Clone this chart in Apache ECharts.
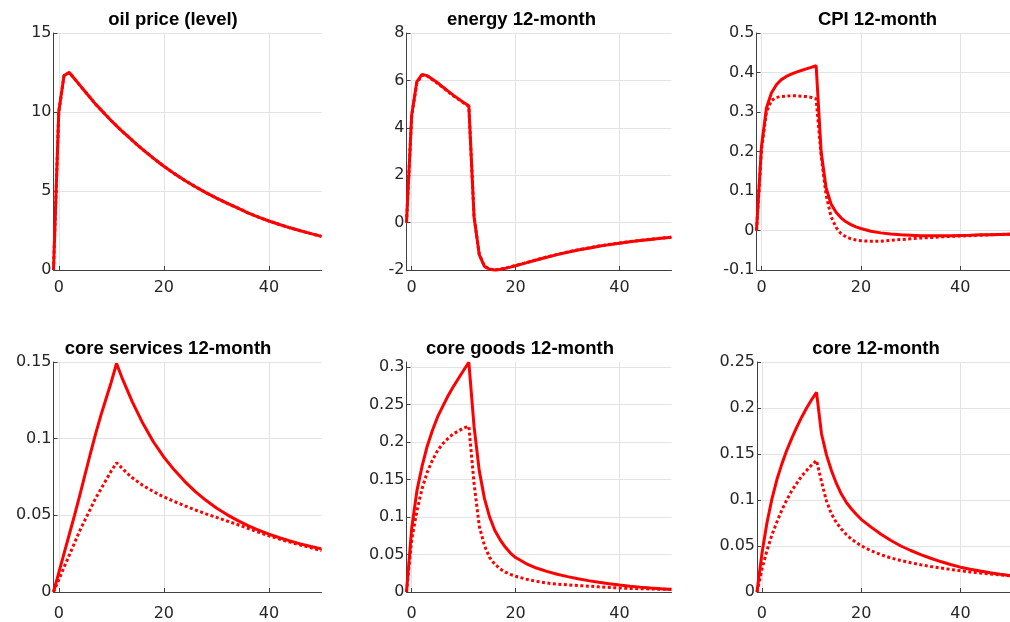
<!DOCTYPE html>
<html>
<head>
<meta charset="utf-8">
<script src="https://cdn.jsdelivr.net/npm/echarts@6/dist/echarts.min.js"></script>
<style>
    html, body { margin: 0; padding: 0; background: #fff; }
    #chart { width: 1010px; height: 622px; }
</style>
</head>
<body>
<div id="chart"></div>
<script>
// months after the shock (-1 = pre-shock)
const months = [-1, 0, 1, 2, 3, 4, 5, 6, 7, 8, 9, 10, 11, 12, 13, 14, 15, 16, 17, 18, 19, 20,
    22, 24, 26, 28, 30, 32, 34, 36, 38, 40, 42, 44, 46, 48, 50];
const xTicks = [0, 20, 40];

const titles = ['oil price (level)', 'energy 12-month', 'CPI 12-month',
    'core services 12-month', 'core goods 12-month', 'core 12-month'];

const oilSolid = [0, 10.0, 12.3, 12.5, 12.1, 11.7, 11.3, 10.9, 10.5, 10.15, 9.8, 9.45, 9.12, 8.8, 8.5, 8.2, 7.9, 7.62, 7.35, 7.08, 6.82, 6.57,
    6.1, 5.67, 5.27, 4.9, 4.55, 4.23, 3.93, 3.62, 3.35, 3.1, 2.88, 2.67, 2.48, 2.3, 2.13];
const oilDotted = [0, 10.0, 12.3, 12.5, 12.1, 11.7, 11.3, 10.9, 10.5, 10.15, 9.8, 9.45, 9.12, 8.8, 8.5, 8.2, 7.9, 7.62, 7.35, 7.08, 6.82, 6.57,
    6.1, 5.67, 5.27, 4.9, 4.55, 4.23, 3.93, 3.62, 3.35, 3.1, 2.88, 2.67, 2.48, 2.3, 2.13];

const energySolid = [0, 4.55, 5.95, 6.25, 6.2, 6.05, 5.9, 5.72, 5.55, 5.38, 5.22, 5.07, 4.93, 0.25, -1.35, -1.85, -1.97, -2.0, -1.98, -1.93, -1.88, -1.82,
    -1.7, -1.58, -1.46, -1.35, -1.25, -1.16, -1.08, -1.0, -0.93, -0.87, -0.81, -0.76, -0.71, -0.66, -0.62];
const energyDotted = [0, 4.5, 5.9, 6.22, 6.18, 6.03, 5.87, 5.7, 5.52, 5.35, 5.2, 5.05, 4.9, 0.25, -1.33, -1.84, -1.96, -1.99, -1.97, -1.92, -1.87, -1.81,
    -1.69, -1.57, -1.45, -1.34, -1.24, -1.15, -1.07, -0.99, -0.92, -0.86, -0.8, -0.75, -0.7, -0.66, -0.62];

const cpiSolid = [0, 0.213, 0.31, 0.348, 0.369, 0.382, 0.39, 0.396, 0.401, 0.405, 0.409, 0.413, 0.417, 0.2, 0.108, 0.067, 0.046, 0.032, 0.022, 0.015, 0.009, 0.005,
    -0.002, -0.006, -0.009, -0.011, -0.012, -0.013, -0.013, -0.013, -0.013, -0.0125, -0.012, -0.011, -0.0105, -0.01, -0.0095];
const cpiDotted = [0, 0.204, 0.30, 0.329, 0.337, 0.339, 0.34, 0.341, 0.341, 0.34, 0.339, 0.337, 0.333, 0.19, 0.09, 0.035, 0.008, -0.008, -0.016, -0.021, -0.024, -0.026,
    -0.027, -0.027, -0.025, -0.023, -0.021, -0.019, -0.018, -0.016, -0.015, -0.014, -0.013, -0.012, -0.011, -0.01, -0.0095];

const servicesSolid = [0, 0.0125, 0.025, 0.0375, 0.05, 0.063, 0.0765, 0.09, 0.103, 0.115, 0.126, 0.137, 0.149, 0.14, 0.132, 0.124, 0.117, 0.11, 0.104, 0.098, 0.093, 0.088,
    0.0795, 0.072, 0.0655, 0.0598, 0.0548, 0.0505, 0.0467, 0.0433, 0.0403, 0.0377, 0.0354, 0.0333, 0.0314, 0.0297, 0.0281];
const servicesDotted = [0, 0.008, 0.016, 0.024, 0.032, 0.04, 0.047, 0.054, 0.061, 0.067, 0.073, 0.079, 0.0843, 0.081, 0.0775, 0.0745, 0.072, 0.0695, 0.0675, 0.0655, 0.0637, 0.062,
    0.059, 0.0562, 0.0535, 0.051, 0.0487, 0.0463, 0.044, 0.0415, 0.039, 0.0367, 0.0345, 0.0325, 0.0306, 0.0288, 0.027];

const goodsSolid = [0, 0.085, 0.135, 0.168, 0.195, 0.216, 0.234, 0.248, 0.262, 0.274, 0.285, 0.296, 0.3065, 0.221, 0.162, 0.125, 0.1, 0.082, 0.07, 0.06, 0.052, 0.046,
    0.038, 0.032, 0.0275, 0.0237, 0.0205, 0.0177, 0.0152, 0.013, 0.011, 0.0093, 0.0078, 0.0065, 0.0053, 0.0043, 0.0034];
const goodsDotted = [0, 0.07, 0.108, 0.138, 0.16, 0.176, 0.189, 0.198, 0.205, 0.211, 0.215, 0.219, 0.221, 0.145, 0.088, 0.062, 0.046, 0.037, 0.031, 0.0265, 0.0235, 0.021,
    0.0172, 0.0142, 0.012, 0.0105, 0.0095, 0.0086, 0.0078, 0.0069, 0.0061, 0.0054, 0.0048, 0.0044, 0.004, 0.0037, 0.0035];

const coreSolid = [0, 0.042, 0.075, 0.101, 0.122, 0.139, 0.154, 0.167, 0.179, 0.19, 0.2, 0.209, 0.217, 0.172, 0.149, 0.132, 0.118, 0.1065, 0.0975, 0.0905, 0.0845, 0.079,
    0.0705, 0.0628, 0.056, 0.05, 0.0451, 0.0407, 0.0367, 0.0331, 0.0299, 0.027, 0.0248, 0.0228, 0.021, 0.0194, 0.018];
const coreDotted = [0, 0.025, 0.045, 0.062, 0.076, 0.089, 0.1, 0.11, 0.118, 0.126, 0.132, 0.138, 0.143, 0.12, 0.099, 0.085, 0.0755, 0.0685, 0.0625, 0.0577, 0.0537, 0.0503,
    0.0448, 0.0405, 0.037, 0.0342, 0.0318, 0.0297, 0.0278, 0.0261, 0.0245, 0.0231, 0.0218, 0.0206, 0.0195, 0.0185, 0.0176];

const yTicksOil = [0, 5, 10, 15];
const yTicksEnergy = [-2, 0, 2, 4, 6, 8];
const yTicksCpi = [-0.1, 0, 0.1, 0.2, 0.3, 0.4, 0.5];
const yTicksServices = [0, 0.05, 0.1, 0.15];
const yTicksGoods = [0, 0.05, 0.1, 0.15, 0.2, 0.25, 0.3];
const yTicksCore = [0, 0.05, 0.1, 0.15, 0.2, 0.25];

const yRanges = [[0, 15], [-2, 8], [-0.1, 0.5], [0, 0.15], [0, 0.307], [0, 0.25]];

const panels = [
    { solid: oilSolid, dotted: oilDotted, ticks: yTicksOil },
    { solid: energySolid, dotted: energyDotted, ticks: yTicksEnergy },
    { solid: cpiSolid, dotted: cpiDotted, ticks: yTicksCpi },
    { solid: servicesSolid, dotted: servicesDotted, ticks: yTicksServices },
    { solid: goodsSolid, dotted: goodsDotted, ticks: yTicksGoods },
    { solid: coreSolid, dotted: coreDotted, ticks: yTicksCore },
];

// plot boxes (pixel), MATLAB-like subplot positions
const boxes = [
    { left: 53.5, top: 33, width: 268, height: 237 },
    { left: 406.5, top: 33, width: 265, height: 237 },
    { left: 756.5, top: 33, width: 267, height: 237 },
    { left: 53.5, top: 362, width: 268, height: 236 },
    { left: 406.5, top: 362, width: 265, height: 236 },
    { left: 757, top: 362, width: 267, height: 236 },
];
const titleCenters = [173, 521.5, 877.5, 168, 520, 876];

const axisColor = '#404040';
const gridColor = '#e3e3e3';
const labelFont = { color: '#262626', fontSize: 16, fontFamily: 'DejaVu Sans, sans-serif' };

function pairs(ys) {
    return months.map((m, i) => [m, ys[i]]);
}

const grid = [], xAxis = [], yAxis = [], series = [], title = [];

panels.forEach((p, i) => {
    const b = boxes[i];
    grid.push({ left: b.left, top: b.top, width: b.width, height: b.height, containLabel: false });
    title.push({
        text: titles[i],
        left: titleCenters[i],
        top: i < 3 ? 10 : 339,
        textAlign: 'center',
        padding: 0,
        textStyle: { fontSize: 18.5, fontWeight: 'bold', color: '#000', fontFamily: 'Liberation Sans, Arial, sans-serif' }
    });
    xAxis.push({
        type: 'value', gridIndex: i, min: -1, max: 50,
        axisLine: { onZero: false, lineStyle: { color: axisColor, width: 1 } },
        axisTick: { inside: true, length: 4, customValues: xTicks, lineStyle: { color: axisColor } },
        axisLabel: { customValues: xTicks, margin: i < 3 ? 10 : 14, ...labelFont },
        splitLine: { show: true, lineStyle: { color: gridColor, width: 1 } }
    });
    yAxis.push({
        type: 'value', gridIndex: i, min: yRanges[i][0], max: yRanges[i][1],
        axisLine: { show: true, onZero: false, lineStyle: { color: axisColor, width: 1 } },
        axisTick: { show: true, inside: true, length: 4, customValues: p.ticks, lineStyle: { color: axisColor } },
        axisLabel: { customValues: p.ticks, margin: 2, padding: [0, 0, 7, 0], ...labelFont },
        splitLine: { show: true, lineStyle: { color: gridColor, width: 1 } }
    });
    series.push({
        type: 'line', xAxisIndex: i, yAxisIndex: i, data: pairs(p.solid),
        symbol: 'none', clip: false,
        lineStyle: { color: '#ff0000', width: 3 }
    });
    series.push({
        type: 'line', xAxisIndex: i, yAxisIndex: i, data: pairs(p.dotted),
        symbol: 'none', clip: false,
        lineStyle: { color: '#ff0000', width: 3, type: [3, 2.5], cap: 'butt' }
    });
});

const chart = echarts.init(document.getElementById('chart'), null, { renderer: 'canvas' });
chart.setOption({
    animation: false,
    backgroundColor: '#fff',
    title: title,
    grid: grid,
    xAxis: xAxis,
    yAxis: yAxis,
    series: series
});
</script>
</body>
</html>
